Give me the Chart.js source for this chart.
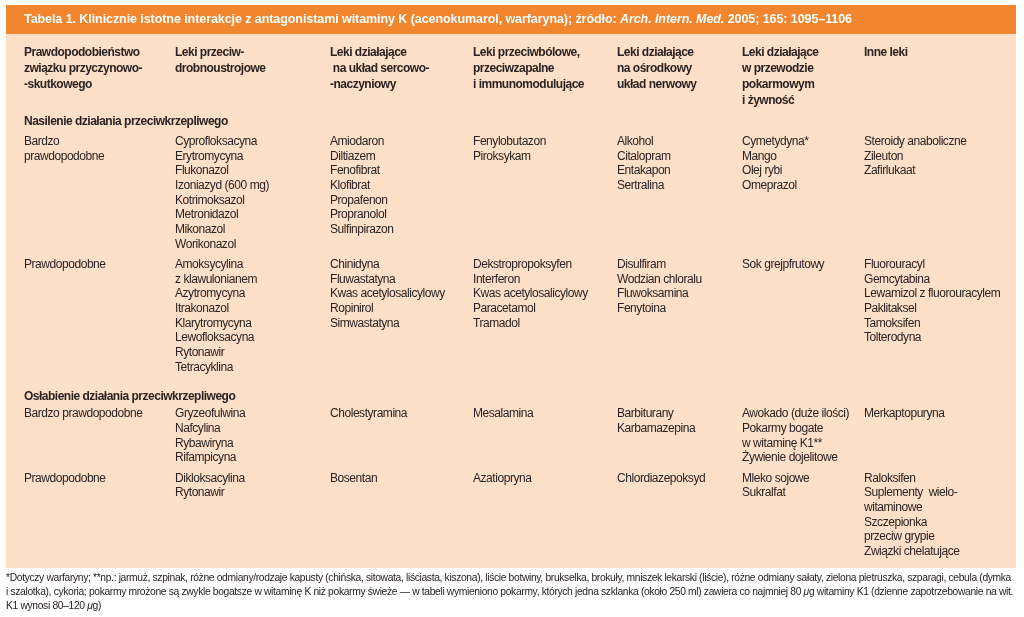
<!DOCTYPE html>
<html>
<head>
<meta charset="utf-8">
<script src="https://cdn.jsdelivr.net/npm/chart.js@4.4.1/dist/chart.umd.min.js"></script>
<style>
  html, body { margin: 0; padding: 0; background: #fff; }
  .wrap { width: 1024px; height: 617px; position: relative; }
</style>
</head>
<body>
<div class="wrap"><canvas id="tbl"></canvas></div>
<script>
// ===== Data =====
// "_" toggles italic
const title = 'Tabela 1. Klinicznie istotne interakcje z antagonistami witaminy K (acenokumarol, warfaryna); źródło: _Arch. Intern. Med._ 2005; 165: 1095–1106';

const headers = [
  ['Prawdopodobieństwo', 'związku przyczynowo-', '-skutkowego'],
  ['Leki przeciw-', 'drobnoustrojowe'],
  ['Leki działające', ' na układ sercowo-', '-naczyniowy'],
  ['Leki przeciwbólowe,', 'przeciwzapalne', 'i immunomodulujące'],
  ['Leki działające', 'na ośrodkowy', 'układ nerwowy'],
  ['Leki działające', 'w przewodzie', 'pokarmowym', 'i żywność'],
  ['Inne leki'],
];

const sections = ['Nasilenie działania przeciwkrzepliwego', 'Osłabienie działania przeciwkrzepliwego'];
const rowSection = [0, 0, 1, 1];

// one array per column, one entry per table row
const likelihood = [
  ['Bardzo', 'prawdopodobne'],
  ['Prawdopodobne'],
  ['Bardzo prawdopodobne'],
  ['Prawdopodobne'],
];
const antimicrobial = [
  ['Cyprofloksacyna', 'Erytromycyna', 'Flukonazol', 'Izoniazyd (600 mg)', 'Kotrimoksazol', 'Metronidazol', 'Mikonazol', 'Worikonazol'],
  ['Amoksycylina', 'z klawulonianem', 'Azytromycyna', 'Itrakonazol', 'Klarytromycyna', 'Lewofloksacyna', 'Rytonawir', 'Tetracyklina'],
  ['Gryzeofulwina', 'Nafcylina', 'Rybawiryna', 'Rifampicyna'],
  ['Dikloksacylina', 'Rytonawir'],
];
const cardio = [
  ['Amiodaron', 'Diltiazem', 'Fenofibrat', 'Klofibrat', 'Propafenon', 'Propranolol', 'Sulfinpirazon'],
  ['Chinidyna', 'Fluwastatyna', 'Kwas acetylosalicylowy', 'Ropinirol', 'Simwastatyna'],
  ['Cholestyramina'],
  ['Bosentan'],
];
const analgesic = [
  ['Fenylobutazon', 'Piroksykam'],
  ['Dekstropropoksyfen', 'Interferon', 'Kwas acetylosalicylowy', 'Paracetamol', 'Tramadol'],
  ['Mesalamina'],
  ['Azatiopryna'],
];
const cns = [
  ['Alkohol', 'Citalopram', 'Entakapon', 'Sertralina'],
  ['Disulfiram', 'Wodzian chloralu', 'Fluwoksamina', 'Fenytoina'],
  ['Barbiturany', 'Karbamazepina'],
  ['Chlordiazepoksyd'],
];
const digestive = [
  ['Cymetydyna*', 'Mango', 'Olej rybi', 'Omeprazol'],
  ['Sok grejpfrutowy'],
  ['Awokado (duże ilości)', 'Pokarmy bogate', 'w witaminę K1**', 'Żywienie dojelitowe'],
  ['Mleko sojowe', 'Sukralfat'],
];
const other = [
  ['Steroidy anaboliczne', 'Zileuton', 'Zafirlukaat'],
  ['Fluorouracyl', 'Gemcytabina', 'Lewamizol z fluorouracylem', 'Paklitaksel', 'Tamoksifen', 'Tolterodyna'],
  ['Merkaptopuryna'],
  ['Raloksifen', 'Suplementy  wielo-', 'witaminowe', 'Szczepionka', 'przeciw grypie', 'Związki chelatujące'],
];
const columns = [likelihood, antimicrobial, cardio, analgesic, cns, digestive, other];

const footnote = [
  '*Dotyczy warfaryny; **np.: jarmuż, szpinak, różne odmiany/rodzaje kapusty (chińska, sitowata, liściasta, kiszona), liście botwiny, brukselka, brokuły, mniszek lekarski (liście), różne odmiany sałaty, zielona pietruszka, szparagi, cebula (dymka',
  'i szalotka), cykoria; pokarmy mrożone są zwykle bogatsze w witaminę K niż pokarmy świeże — w tabeli wymieniono pokarmy, których jedna szklanka (około 250 ml) zawiera co najmniej 80 _μ_g witaminy K1 (dzienne zapotrzebowanie na wit.',
  'K1 wynosi 80–120 _μ_g)',
];

// ===== Layout =====
const FONT = '"Liberation Sans", Arial, sans-serif';
const colX = [24, 175, 330, 473, 617, 742, 864];
const INK = '#2a2223';

// draws "_"-marked rich text; returns letter spacing used
function drawRich(ctx, text, x, y, base, spacing) {
  const parts = text.split('_');
  let cx = x;
  ctx.letterSpacing = spacing + 'px';
  parts.forEach((t, k) => {
    ctx.font = `${k % 2 ? 'italic ' : ''}${base}`;
    ctx.fillText(t, cx, y);
    cx += ctx.measureText(t).width;
  });
}
function fitSpacing(ctx, text, base, width) {
  ctx.letterSpacing = '0px';
  let w = 0;
  text.split('_').forEach((t, k) => {
    ctx.font = `${k % 2 ? 'italic ' : ''}${base}`;
    w += ctx.measureText(t).width;
  });
  return (width - w) / text.replace(/_/g, '').length;
}

const tablePlugin = {
  id: 'tableDraw',
  beforeDraw(chart) {
    const { ctx, scales: { x, y } } = chart;
    const px = (v) => x.getPixelForValue(v);
    const py = (v) => y.getPixelForValue(v);

    ctx.save();
    // panels
    ctx.fillStyle = '#fde0c7';
    ctx.fillRect(px(6), py(34), px(1016) - px(6), py(568) - py(34));
    ctx.fillStyle = '#f1862f';
    ctx.fillRect(px(6), py(5), px(1016) - px(6), py(34) - py(5));

    ctx.textBaseline = 'middle';

    // title
    ctx.fillStyle = '#fff';
    const tBase = `bold 12.5px ${FONT}`;
    drawRich(ctx, title, px(24), py(19.5), tBase, fitSpacing(ctx, title, tBase, px(852) - px(24)));

    ctx.fillStyle = INK;
    // column headers
    ctx.font = `bold 12px ${FONT}`;
    ctx.letterSpacing = '-0.5px';
    headers.forEach((lines, c) => {
      lines.forEach((t, i) => ctx.fillText(t, px(colX[c]), py(53 + i * 16)));
    });

    // body
    const lh = 14.7;
    let yy = 121.5;
    let curSection = -1;
    rowSection.forEach((s, r) => {
      if (s !== curSection) {
        if (curSection >= 0) yy += 8.5;
        ctx.font = `bold 12px ${FONT}`;
        ctx.letterSpacing = '-0.5px';
        ctx.fillText(sections[s], px(colX[0]), py(yy));
        yy += curSection < 0 ? 20 : 17.8;
        curSection = s;
      }
      ctx.font = `12px ${FONT}`;
      ctx.letterSpacing = '-0.45px';
      let n = 0;
      columns.forEach((col, c) => {
        col[r].forEach((t, i) => ctx.fillText(t, px(colX[c]), py(yy + i * lh)));
        n = Math.max(n, col[r].length);
      });
      yy += n * lh + 5.5;
    });

    // footnote
    const fBase = `10.3px ${FONT}`;
    const fs = fitSpacing(ctx, footnote[0], fBase, px(1011) - px(6));
    footnote.forEach((line, i) => drawRich(ctx, line, px(6), py(578 + i * 14), fBase, fs));
    ctx.restore();
  },
};

new Chart(document.getElementById('tbl'), {
  type: 'scatter',
  data: { datasets: [{ data: [], pointRadius: 0 }] },
  options: {
    responsive: true,
    maintainAspectRatio: false,
    animation: false,
    layout: { padding: 0 },
    scales: {
      x: { type: 'linear', min: 0, max: 1024, display: false },
      y: { type: 'linear', min: 0, max: 617, reverse: true, display: false },
    },
    plugins: { legend: { display: false }, tooltip: { enabled: false } },
  },
  plugins: [tablePlugin],
});
</script>
</body>
</html>
